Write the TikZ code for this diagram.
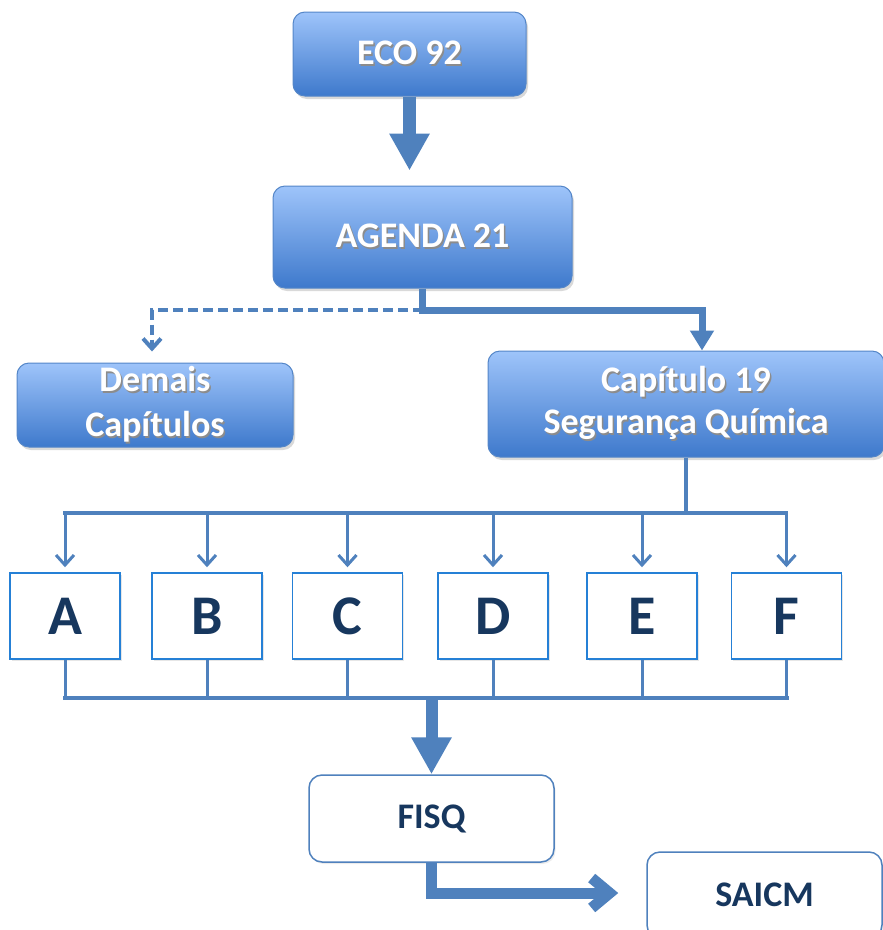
\documentclass[tikz,border=0pt]{standalone}
\usepackage{fontspec}
\setmainfont{Carlito}
\usetikzlibrary{arrows.meta,shadows,calc}
\definecolor{lnblue}{RGB}{79,129,189}
\definecolor{topblue}{RGB}{158,196,250}
\definecolor{botblue}{RGB}{62,121,204}
\definecolor{brdblue}{RGB}{84,134,200}
\definecolor{letblue}{RGB}{37,128,214}
\definecolor{navy}{RGB}{23,55,94}
\newcommand\wsh[1]{\leavevmode\rlap{\kern1.5pt\raisebox{-1.8pt}{\textcolor{black!45}{#1}}}#1}
\begin{document}
\begin{tikzpicture}[x=1pt,y=-1pt,
  bluebox/.style={draw=brdblue, line width=1pt, rounded corners=12pt,
    top color=topblue, bottom color=botblue, text=white,
    font=\fontsize{36}{45}\selectfont\bfseries, align=center, inner sep=0pt,
    drop shadow={shadow xshift=2pt, shadow yshift=-3pt, opacity=0.3}},
  letbox/.style={draw=letblue, line width=1.5pt, fill=white,
    minimum width=110pt, minimum height=86pt, inner sep=0pt, text=navy,
    font=\fontsize{56}{60}\selectfont\bfseries,
    drop shadow={shadow xshift=1.5pt, shadow yshift=-2pt, opacity=0.2}},
  whitebox/.style={draw=lnblue, line width=1.5pt, rounded corners=13pt,
    fill=white, text=navy, font=\fontsize{36}{40}\selectfont\bfseries,
    inner sep=0pt,
    drop shadow={shadow xshift=1.5pt, shadow yshift=-2pt, opacity=0.15}},
  conn/.style={draw=lnblue, line join=miter},
  bigarrow/.style={conn, line width=13pt, -{Triangle[width=38pt,length=37pt]}},
]
\useasboundingbox (0,0) rectangle (883,930);

% boxes
\node[bluebox, minimum width=233pt, minimum height=84pt] (eco) at (409.5,54) {\wsh{ECO 92}};
\node[bluebox, minimum width=299pt, minimum height=102pt] (agenda) at (422.5,237) {\wsh{AGENDA 21}};
\node[bluebox, minimum width=276pt, minimum height=84pt] (demais) at (155,405) {\wsh{Demais}\\\wsh{Capítulos}};
\node[bluebox, minimum width=396pt, minimum height=106pt] (cap) at (686,404) {\raisebox{-3pt}{\wsh{Capítulo 19}}\\\wsh{Segurança Química}};

\node[letbox] (A) at (65,616) {A};
\node[letbox] (B) at (207,616) {B};
\node[letbox] (C) at (347.5,616) {C};
\node[letbox] (D) at (493,616) {D};
\node[letbox] (E) at (642,616) {E};
\node[letbox] (F) at (786.5,616) {F};

\node[whitebox, minimum width=245pt, minimum height=87pt] (fisq) at (431.5,818.5) {FISQ};
\node[whitebox, minimum width=235pt, minimum height=86pt] (saicm) at (764.5,895) {SAICM};

% helper levels
\coordinate (jy) at (0,310);
\coordinate (bt) at (0,513);
\coordinate (bb) at (0,698);
\coordinate (fy) at (0,893);

% connectors
\draw[bigarrow, shorten >=15pt] (eco.south) -- (eco.south |- agenda.north);

\draw[conn, line width=4pt, dash pattern=on 10pt off 5pt,
  -{Straight Barb[width=18pt,length=10pt]}, shorten >=11pt]
  (agenda.south |- jy) -| ([xshift=-3pt]demais.north);
\draw[conn, line width=7pt, -{Triangle[width=23pt,length=20pt]}]
  (agenda.south) -- (agenda.south |- jy) -| ([xshift=16pt]cap.north);

\draw[conn, line width=3.5pt] (cap.south) -- (cap.south |- bt);
\draw[conn, line width=3.5pt, line cap=rect] (A.north |- bt) -- (F.north |- bt);
\foreach \n in {A,B,C,D,E,F}
  \draw[conn, line width=3pt, -{Straight Barb[width=18pt,length=10pt]}, shorten >=5pt]
    (\n.north |- bt) -- (\n.north);

\foreach \n in {A,B,C,D,E,F}
  \draw[conn, line width=3pt] (\n.south) -- (\n.south |- bb);
\draw[conn, line width=4pt, line cap=rect] (A.south |- bb) -- (F.south |- bb);

\draw[bigarrow, line width=12pt] (fisq.north |- bb) -- (fisq.north);

\draw[conn, line width=11pt, -{Straight Barb[width=30pt,length=18pt]}, shorten >=28pt]
  (fisq.south) |- (saicm.west |- fy);
\end{tikzpicture}
\end{document}
